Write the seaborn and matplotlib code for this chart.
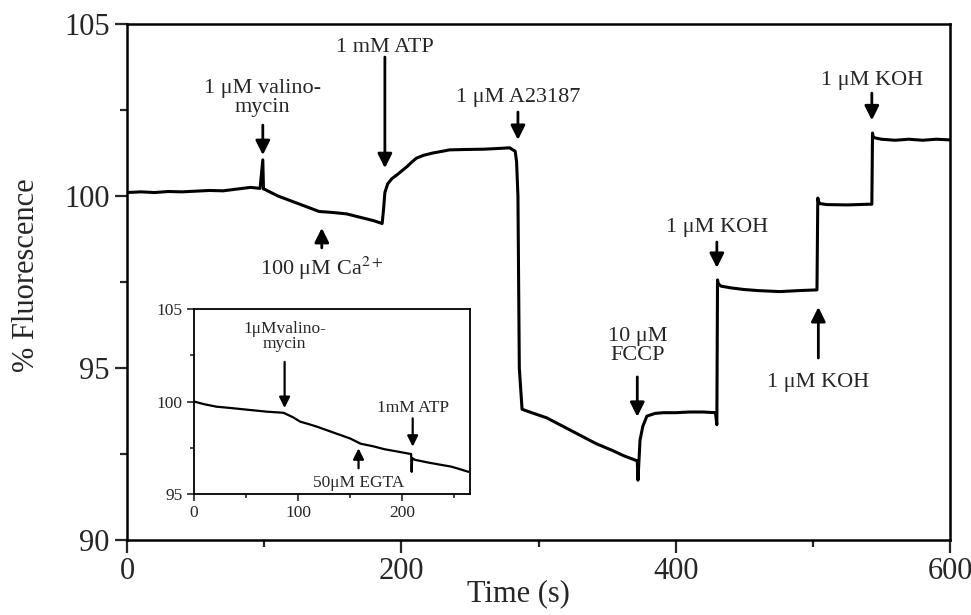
import numpy as np
import pandas as pd
import matplotlib
matplotlib.use("Agg")
import matplotlib.pyplot as plt
import seaborn as sns

# main trace (time in s, % fluorescence)
main_t = [0, 10, 20, 30, 40, 50, 60, 70, 80, 90, 97, 99, 99.5, 100, 105, 110,
          120, 130, 140, 150, 160, 170, 180, 186, 187, 188, 190, 193, 197, 200,
          204, 208, 211, 216, 223, 230, 235, 245, 260, 270, 279, 283, 284, 285,
          286, 288, 295, 306, 318, 330, 342, 354, 362, 370, 372, 372.5, 374,
          376, 379, 385, 391, 400, 410, 420, 429, 430, 430.5, 431, 433, 440,
          450, 460, 476, 490, 503, 503.6, 504, 505, 510, 525, 541, 543, 543.5,
          544, 550, 560, 570, 580, 590, 600]
main_v = [100.10, 100.12, 100.10, 100.13, 100.12, 100.14, 100.16, 100.15,
          100.20, 100.25, 100.22, 101.05, 100.20, 100.20, 100.10, 100.00,
          99.85, 99.70, 99.55, 99.52, 99.48, 99.38, 99.28, 99.20, 99.60,
          100.10, 100.35, 100.50, 100.62, 100.72, 100.85, 101.00, 101.10,
          101.18, 101.25, 101.30, 101.34, 101.35, 101.36, 101.38, 101.40,
          101.30, 101.00, 100.00, 95.00, 93.80, 93.70, 93.55, 93.30, 93.05,
          92.80, 92.60, 92.45, 92.33, 92.30, 91.74, 92.90, 93.30, 93.60,
          93.68, 93.70, 93.70, 93.72, 93.72, 93.70, 93.35, 97.56, 97.45,
          97.38, 97.33, 97.28, 97.25, 97.22, 97.25, 97.27, 99.94, 99.85,
          99.78, 99.75, 99.74, 99.76, 99.76, 101.83, 101.70, 101.65, 101.62,
          101.65, 101.62, 101.65, 101.63]

# inset trace
inset_t = [0, 10, 21.6, 35, 54, 70, 86, 95, 102, 110, 118, 135, 150, 160, 172,
           183, 195, 208.5, 209, 209.5, 212, 225, 247, 255, 263.5]
inset_v = [100.0, 99.85, 99.72, 99.65, 99.54, 99.45, 99.39, 99.15, 98.91,
           98.78, 98.64, 98.30, 98.00, 97.72, 97.58, 97.42, 97.30, 97.16,
           96.20, 96.95, 96.85, 96.70, 96.48, 96.35, 96.20]

# labels: text, x, text y, arrow tail y, arrow tip y
main_notes = [
    ("1 \u03bcM valino-\nmycin", 99, 102.85, 102.06, 101.19),
    ("1 mM ATP", 188, 104.33, 104.04, 100.81),
    ("100 \u03bcM Ca$^{2+}$", 142, 97.9, 98.49, 99.07),
    ("1 \u03bcM A23187", 285, 102.85, 102.44, 101.63),
    ("1 \u03bcM KOH", 543, 103.37, 102.99, 102.20),
    ("1 \u03bcM KOH", 430, 99.07, 98.66, 97.91),
    ("10 \u03bcM\nFCCP", 372, 95.64, 94.74, 93.58),
    ("1 \u03bcM KOH", 504, 94.59, 95.29, 96.77),
]
inset_notes = [
    ("1\u03bcMvalino-\nmycin", 87, 103.5, 102.14, 99.65),
    ("1mM ATP", 210, 99.63, 99.09, 97.56),
    ("50\u03bcM EGTA", 158, 95.58, 96.39, 97.47),
]

sns.set_style("ticks")
plt.rcParams['font.family'] = ['Liberation Serif', 'DejaVu Serif']
plt.rcParams['mathtext.fontset'] = 'stix'

fig = plt.figure(figsize=(9.71, 6.15), dpi=100)
ax = fig.add_axes([0.1308, 0.122, 0.8476, 0.839])

sns.lineplot(x=main_t, y=main_v, ax=ax, color='black', lw=2.2, estimator=None)
ax.set_xlim(0, 600)
ax.set_ylim(90, 105)
ax.set_xticks([0, 200, 400, 600])
ax.set_xticks([100, 300, 500], minor=True)
ax.set_yticks([90, 95, 100, 105])
ax.set_yticks([92.5, 97.5, 102.5], minor=True)
ax.tick_params(which='major', direction='out', length=9, width=1.6, labelsize=22)
ax.tick_params(which='minor', direction='out', length=5, width=1.6)
for sp in ax.spines.values():
    sp.set_linewidth(1.8)
    sp.set_color('black')
ax.set_xlabel("Time (s)", fontsize=22)
ax.set_ylabel("% Fluorescence", fontsize=22)
ax.xaxis.set_label_coords(0.476, -0.077)
ax.yaxis.set_label_coords(-0.105, 0.514)

for txt, x, ty, tail, tip in main_notes:
    ax.text(x, ty, txt, ha='center', va='center', fontsize=16, linespacing=0.95)
    ax.annotate('', xy=(x, tip), xytext=(x, tail),
                arrowprops=dict(arrowstyle='-|>,head_width=0.43,head_length=0.86',
                                lw=2, color='black', shrinkA=0, shrinkB=0))

ins = fig.add_axes([0.1998, 0.1967, 0.2842, 0.3009])
sns.lineplot(x=inset_t, y=inset_v, ax=ins, color='black', lw=1.6, estimator=None)
ins.set_xlim(0, 265)
ins.set_ylim(95, 105)
ins.set_xticks([0, 100, 200])
ins.set_xticks([50, 150, 250], minor=True)
ins.set_yticks([95, 100, 105])
ins.set_yticks([97.5, 102.5], minor=True)
ins.tick_params(which='major', direction='out', length=5, width=1.2, labelsize=12.5, pad=3)
ins.tick_params(which='minor', direction='out', length=3, width=1.2)
for sp in ins.spines.values():
    sp.set_linewidth(1.3)
    sp.set_color('black')

for txt, x, ty, tail, tip in inset_notes:
    ins.text(x, ty, txt, ha='center', va='center', fontsize=12.5, linespacing=0.95)
    ins.annotate('', xy=(x, tip), xytext=(x, tail),
                 arrowprops=dict(arrowstyle='-|>,head_width=0.4,head_length=0.8',
                                 lw=1.6, color='black', shrinkA=0, shrinkB=0,
                                 mutation_scale=8))

fig.savefig("out.png", dpi=100)
